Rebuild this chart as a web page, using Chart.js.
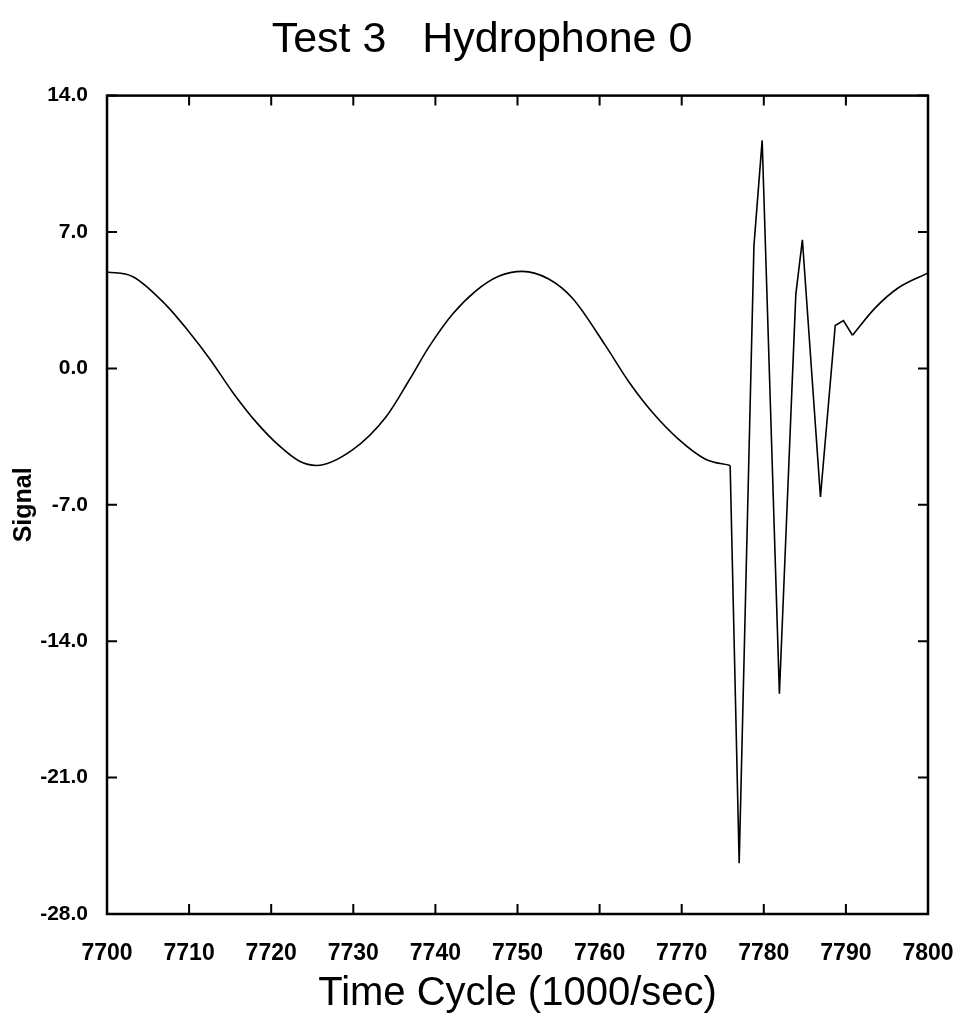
<!DOCTYPE html>
<html>
<head>
<meta charset="utf-8">
<script src="https://cdn.jsdelivr.net/npm/chart.js@4.4.1/dist/chart.umd.min.js"></script>
<style>
  html, body { margin: 0; padding: 0; background: #fff; }
  canvas { display: block; }
</style>
</head>
<body>
<canvas id="hydroChart" width="964" height="1024"></canvas>
<script>
// Data (time in 1000/sec cycles, signal)
// smooth part before the spike
const timeA = [7700, 7703.1, 7707.2, 7710, 7712.5, 7715.3, 7718.2, 7721, 7723.4, 7725.5,
  7729.9, 7734, 7736.8, 7739.2, 7742.1, 7744.9, 7747.7, 7750.6, 7753.8, 7756.7,
  7760.7, 7763.6, 7766.4, 7769.6, 7772.9, 7775.9];
const signalA = [4.95, 4.72, 3.25, 1.87, 0.50, -1.22, -2.77, -3.98, -4.75, -4.98,
  -4.18, -2.48, -0.61, 1.09, 2.79, 3.97, 4.73, 4.98, 4.59, 3.6,
  1.18, -0.71, -2.24, -3.63, -4.66, -4.98];

// the spike (straight segments)
const spikeTime = [7775.9, 7777.0, 7778.8, 7779.8, 7781.9, 7783.9, 7784.7, 7786.9, 7788.7, 7789.7, 7790.8];
const spikeSignal = [-4.98, -25.4, 6.3, 11.7, -16.7, 3.8, 6.6, -6.6, 2.2, 2.45, 1.7];

// smooth tail after the spike
const tailTime = [7790.8, 7793.6, 7796.4, 7800];
const tailSignal = [1.7, 3.12, 4.14, 4.9];

// axis ticks
const xTicks = [7700, 7710, 7720, 7730, 7740, 7750, 7760, 7770, 7780, 7790, 7800];
const yTicks = [14, 7, 0, -7, -14, -21, -28];

const toPoints = (xs, ys) => xs.map((t, i) => ({ x: t, y: ys[i] }));

// frame round the plot with inward tick marks on all four sides
const frameTicks = {
  id: 'frameTicks',
  afterDraw(chart) {
    const { ctx, chartArea: a, scales: { x, y } } = chart;
    const len = 10;
    ctx.save();
    ctx.strokeStyle = '#000';
    ctx.lineWidth = 2.5;
    ctx.strokeRect(a.left, a.top, a.right - a.left, a.bottom - a.top);
    ctx.lineWidth = 2;
    ctx.beginPath();
    xTicks.forEach(v => {
      const px = x.getPixelForValue(v);
      ctx.moveTo(px, a.bottom); ctx.lineTo(px, a.bottom - len);
      ctx.moveTo(px, a.top); ctx.lineTo(px, a.top + len);
    });
    yTicks.forEach(v => {
      const py = y.getPixelForValue(v);
      ctx.moveTo(a.left, py); ctx.lineTo(a.left + len, py);
      ctx.moveTo(a.right, py); ctx.lineTo(a.right - len, py);
    });
    ctx.stroke();
    ctx.restore();
  }
};

const lineStyle = {
  borderColor: '#000',
  borderWidth: 1.6,
  pointRadius: 0,
  fill: false
};

const ctx = document.getElementById('hydroChart').getContext('2d');

new Chart(ctx, {
  type: 'line',
  data: {
    datasets: [
      { ...lineStyle, label: 'Signal', data: toPoints(timeA, signalA), cubicInterpolationMode: 'monotone' },
      { ...lineStyle, label: 'Signal spike', data: toPoints(spikeTime, spikeSignal), tension: 0 },
      { ...lineStyle, label: 'Signal tail', data: toPoints(tailTime, tailSignal), cubicInterpolationMode: 'monotone' }
    ]
  },
  options: {
    responsive: false,
    animation: false,
    devicePixelRatio: 1,
    layout: { padding: 0 },
    plugins: {
      legend: { display: false },
      tooltip: { enabled: false },
      title: {
        display: true,
        text: 'Test 3   Hydrophone 0',
        color: '#000',
        font: { family: 'Liberation Sans, Arial, sans-serif', size: 43, weight: 'normal' },
        padding: { top: 14, bottom: 30 }
      }
    },
    scales: {
      x: {
        type: 'linear',
        min: 7700,
        max: 7800,
        afterBuildTicks: scale => { scale.ticks = xTicks.map(v => ({ value: v })); },
        afterFit: scale => {
          scale.height = 110;
          scale.paddingLeft = 0;
          scale.paddingRight = 36;
        },
        grid: { display: false },
        border: { display: false },
        ticks: {
          color: '#000',
          padding: 18,
          maxRotation: 0,
          font: { family: 'Liberation Sans, Arial, sans-serif', size: 23, weight: 'bold' },
          callback: v => String(v)
        },
        title: {
          display: true,
          text: 'Time Cycle (1000/sec)',
          color: '#000',
          font: { family: 'Liberation Sans, Arial, sans-serif', size: 40, weight: 'normal' },
          padding: { top: 0, bottom: 6 }
        }
      },
      y: {
        type: 'linear',
        min: -28,
        max: 14,
        afterBuildTicks: scale => { scale.ticks = yTicks.map(v => ({ value: v })); },
        afterFit: scale => { scale.width = 107; },
        grid: { display: false },
        border: { display: false },
        ticks: {
          color: '#000',
          padding: 11,
          font: { family: 'Liberation Sans, Arial, sans-serif', size: 21, weight: 'bold' },
          callback: v => Number(v).toFixed(1)
        },
        title: {
          display: true,
          text: 'Signal',
          color: '#000',
          font: { family: 'Liberation Sans, Arial, sans-serif', size: 25, weight: 'bold' },
          padding: { top: 9, bottom: 0 }
        }
      }
    }
  },
  plugins: [frameTicks]
});
</script>
</body>
</html>
